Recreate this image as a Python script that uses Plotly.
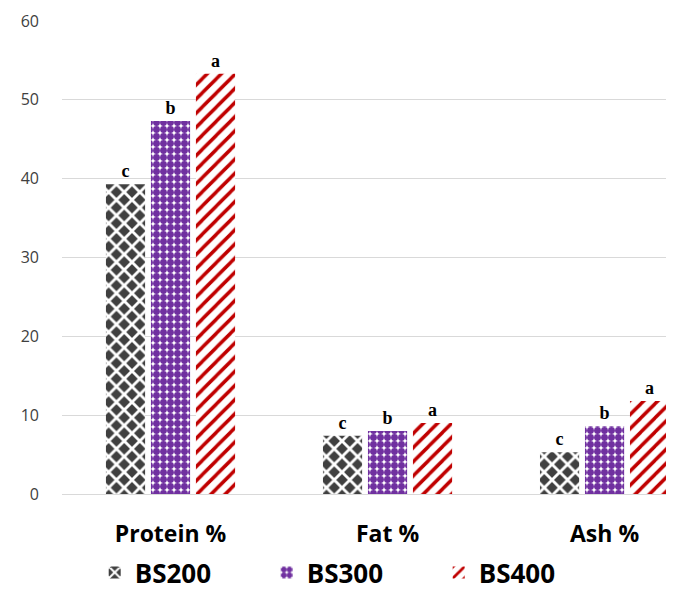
import plotly.graph_objects as go

categories = ["Protein %", "Fat %", "Ash %"]
series_names = ["BS200", "BS300", "BS400"]
bs200 = [39.3, 7.4, 5.3]
bs300 = [47.3, 8.0, 8.6]
bs400 = [53.3, 9.0, 11.8]
letters200 = ["c", "c", "c"]
letters300 = ["b", "b", "b"]
letters400 = ["a", "a", "a"]
y_ticks = [0, 10, 20, 30, 40, 50, 60]

styles = [
    dict(shape="x", fgcolor="white", bgcolor="#404040", size=11, solidity=0.45, fillmode="replace"),
    dict(shape=".", fgcolor="#7030A0", bgcolor="white", size=7, solidity=0.75, fillmode="replace"),
    dict(shape="/", fgcolor="#C00000", bgcolor="white", size=10, solidity=0.35, fillmode="replace"),
]

fig = go.Figure()
for name, vals, lets, st in zip(series_names, [bs200, bs300, bs400],
                                [letters200, letters300, letters400], styles):
    fig.add_trace(go.Bar(
        x=categories, y=vals, name=name,
        text=lets, textposition="outside",
        textfont=dict(family="Liberation Serif", size=18, color="black", weight="bold"),
        marker=dict(color=st["bgcolor"], line=dict(width=0), pattern=st),
        cliponaxis=False,
    ))

fig.update_layout(
    width=666, height=584,
    margin=dict(l=54, r=0, t=13, b=98, autoexpand=False),
    paper_bgcolor="white", plot_bgcolor="white",
    barmode="group", bargap=0.378, bargroupgap=0.13,
    showlegend=True,
    legend=dict(orientation="h", x=0.475, xanchor="center", y=-0.166, yanchor="middle",
                font=dict(family="Open Sans", size=26, color="black", weight="bold"),
                itemwidth=30, entrywidthmode="pixels", entrywidth=127,
                tracegroupgap=0),
    xaxis=dict(range=[-0.5, 2.32], showgrid=False, showline=False, ticks="",
               automargin=False, ticklabelstandoff=24,
               tickfont=dict(family="Open Sans", size=23, color="black", weight="bold")),
    yaxis=dict(range=[0, 60], tickvals=y_ticks, showgrid=True, gridcolor="#D9D9D9",
               gridwidth=1, zeroline=True, zerolinecolor="#D9D9D9", zerolinewidth=1,
               showline=False, ticks="", ticklabelstandoff=22, automargin=False,
               tickfont=dict(family="Open Sans", size=16, color="#404040")),
)

fig.write_html("out.html")
